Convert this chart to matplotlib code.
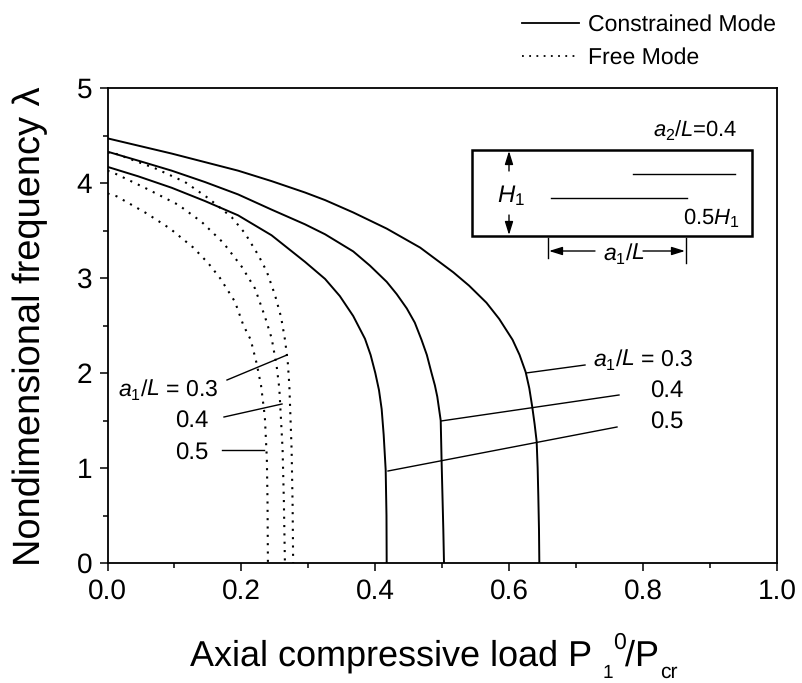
import matplotlib
matplotlib.use('Agg')
from matplotlib import pyplot as plt

plt.rcParams['font.family'] = ['Liberation Sans', 'DejaVu Sans']
plt.rcParams['mathtext.fontset'] = 'custom'
plt.rcParams['mathtext.rm'] = 'Liberation Sans'
plt.rcParams['mathtext.it'] = 'Liberation Sans:italic'
plt.rcParams['mathtext.default'] = 'regular'
plt.rcParams['text.hinting'] = 'no_hinting'
plt.rcParams['text.hinting_factor'] = 1

# constrained mode, a1/L = 0.3, 0.4, 0.5
c1_x = [0.0, 0.0958, 0.195, 0.245, 0.295, 0.325, 0.367, 0.417, 0.467, 0.5165, 0.54, 0.566, 0.585, 0.605, 0.6155, 0.6246, 0.63, 0.6345, 0.638, 0.641, 0.6425, 0.6435, 0.6445, 0.645]
c1_y = [4.47, 4.31, 4.13, 4.02, 3.90, 3.82, 3.69, 3.52, 3.32, 3.06, 2.92, 2.74, 2.57, 2.35, 2.19, 2.01, 1.84, 1.64, 1.46, 1.28, 1.00, 0.70, 0.35, 0.0]
c2_x = [0.0, 0.046, 0.0958, 0.1456, 0.195, 0.245, 0.295, 0.325, 0.367, 0.392, 0.417, 0.432, 0.447, 0.459, 0.469, 0.477, 0.484, 0.489, 0.4926, 0.4977, 0.499, 0.5016, 0.5026]
c2_y = [4.33, 4.235, 4.13, 4.01, 3.88, 3.72, 3.565, 3.46, 3.28, 3.13, 2.96, 2.83, 2.68, 2.53, 2.35, 2.19, 2.00, 1.87, 1.75, 1.50, 1.08, 0.35, 0.0]
c3_x = [0.0, 0.046, 0.0958, 0.1456, 0.195, 0.245, 0.295, 0.325, 0.347, 0.367, 0.3846, 0.393, 0.400, 0.4055, 0.4095, 0.4125, 0.4155, 0.4167, 0.417]
c3_y = [4.17, 4.07, 3.95, 3.81, 3.66, 3.45, 3.17, 2.99, 2.81, 2.60, 2.36, 2.19, 2.00, 1.82, 1.62, 1.35, 0.98, 0.50, 0.0]

# free mode, a1/L = 0.3, 0.4, 0.5
f1_x = [0.0, 0.0137, 0.071, 0.1158, 0.1506, 0.1855, 0.2054, 0.2253, 0.2378, 0.2502, 0.2592, 0.2651, 0.2692, 0.2716, 0.275, 0.2765, 0.2773]
f1_y = [4.32, 4.305, 4.155, 4.01, 3.84, 3.64, 3.47, 3.24, 3.07, 2.82, 2.59, 2.35, 2.12, 1.87, 1.19, 0.60, 0.0]
f2_x = [0.0, 0.0112, 0.0585, 0.1058, 0.1407, 0.173, 0.2004, 0.2203, 0.2353, 0.2452, 0.2527, 0.2566, 0.2615, 0.2634, 0.265]
f2_y = [4.13, 4.10, 3.94, 3.77, 3.59, 3.37, 3.12, 2.89, 2.59, 2.365, 2.07, 1.84, 1.20, 0.66, 0.0]
f3_x = [0.0, 0.0137, 0.0585, 0.0934, 0.1282, 0.1506, 0.168, 0.1904, 0.2028, 0.2139, 0.2228, 0.2293, 0.235, 0.238, 0.239, 0.2396]
f3_y = [3.89, 3.86, 3.68, 3.52, 3.32, 3.155, 3.00, 2.75, 2.505, 2.35, 2.10, 1.87, 1.54, 1.10, 0.66, 0.0]

x_ticks = [0.0, 0.2, 0.4, 0.6, 0.8, 1.0]
y_ticks = [0, 1, 2, 3, 4, 5]

W, H = 802, 683
fig = plt.figure(figsize=(W / 100, H / 100), dpi=100)
ax = fig.add_axes([107.5 / W, 1 - 563 / H, 669.5 / W, 475 / H])

for x, y in [(c1_x, c1_y), (c2_x, c2_y), (c3_x, c3_y)]:
    ax.plot(x, y, color='black', linewidth=1.4, linestyle='solid')
for x, y in [(f1_x, f1_y), (f2_x, f2_y), (f3_x, f3_y)]:
    ax.plot(x, y, color='black', linewidth=1.5, linestyle=(0, (1, 3)))

ax.set_xlim(0, 1)
ax.set_ylim(0, 5)
ax.set_xticks(x_ticks)
ax.set_xticks([0.1, 0.3, 0.5, 0.7, 0.9], minor=True)
ax.set_yticks(y_ticks)
ax.set_yticks([0.5, 1.5, 2.5, 3.5, 4.5], minor=True)
ax.tick_params(which='major', length=6, width=1.1, labelsize=20, pad=5)
ax.tick_params(which='minor', length=3.5, width=1.1)
for s in ax.spines.values():
    s.set_linewidth(1.3)

# overlay in pixel coordinates for the hand drawn notes
ov = fig.add_axes([0, 0, 1, 1])
ov.set_xlim(0, W)
ov.set_ylim(H, 0)
ov.axis('off')
ov.patch.set_alpha(0)


def note(x, y, s, size=16.5, **kw):
    ov.text(x, y, s, fontsize=size, va='baseline', ha='left', **kw)


def seg(x0, y0, x1, y1, lw=1.0, **kw):
    ov.plot([x0, x1], [y0, y1], color='black', linewidth=lw, **kw)


def arrow(x0, y0, x1, y1):
    ov.annotate('', xy=(x1, y1), xytext=(x0, y0),
                arrowprops=dict(arrowstyle='-|>,head_length=0.8,head_width=0.25', color='black',
                                lw=1.0, shrinkA=0, shrinkB=0))


ov.text(30, 326.5, 'Nondimensional frequency λ', fontsize=27.5, rotation=90, ha='center', va='center')

# x label in pieces, the sub and superscript sit apart in the original
note(190, 666, 'Axial compressive load P', size=26.2)
note(603, 678, '1', size=14)
note(613, 649, '0', size=16.5)
note(625, 666, '/P', size=26.2)
note(660, 678, 'cr', size=15)

# legend
seg(522, 23, 579, 23, lw=1.3)
note(588, 31, 'Constrained Mode', size=16.7)
seg(522, 56, 579, 56, lw=1.3, linestyle=(0, (1, 3)))
note(588, 64, 'Free Mode', size=16.7)

# leaders and labels, left group
seg(227, 380, 287, 355)
seg(224, 417, 282, 404)
seg(222, 450, 264, 450)
note(118, 396, r'$\mathit{a}_{1}\mathit{/L}$ = 0.3')
note(175, 428, '0.4', size=17.5)
note(175, 460, '0.5', size=17.5)

# leaders and labels, right group
seg(526, 373, 585, 365)
seg(441, 421, 619, 395)
seg(388, 471, 617, 427)
note(593, 366, r'$\mathit{a}_{1}\mathit{/L}$ = 0.3')
note(650, 398, '0.4', size=17.5)
note(650, 429, '0.5', size=17.5)

# inset sketch
ov.add_patch(plt.Rectangle((472, 150), 280, 86, fill=False, edgecolor='black', linewidth=1.8))
seg(633, 173.5, 735, 173.5)
seg(551, 197.5, 687, 197.5)
note(653, 137, r'$\mathit{a}_{2}\mathit{/L}$=0.4', size=16.2)
note(497, 202, r'$\mathit{H}_{1}$', size=17.5)
note(683, 224, r'0.5$\mathit{H}_{1}$', size=16)
note(603, 260, r'$\mathit{a}_{1}\mathit{/L}$')
arrow(509, 171, 509, 151)
arrow(509, 215, 509, 235)
seg(548, 238, 548, 258)
seg(686, 238, 686, 263)
arrow(595, 251, 549, 251)
arrow(643, 251, 685, 251)

fig.savefig('out.png', dpi=100)
